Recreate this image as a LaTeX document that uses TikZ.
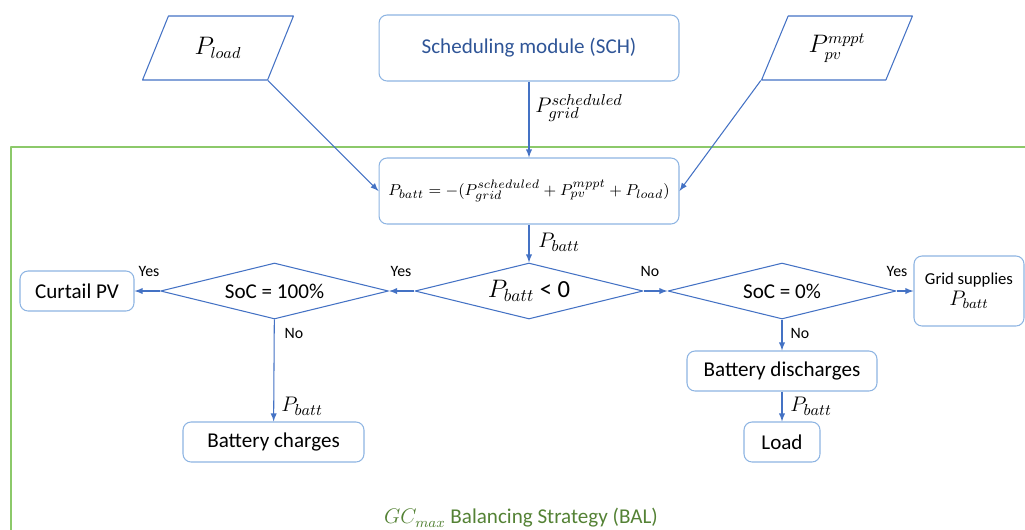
\documentclass[tikz,border=0pt]{standalone}
\usepackage{fontspec}
\setmainfont{Carlito}
\usetikzlibrary{shapes.geometric}
\definecolor{lineblue}{HTML}{4472C4}
\definecolor{boxblue}{HTML}{8DB4E2}
\definecolor{schblue}{HTML}{2F5597}
\definecolor{framegreen}{HTML}{8CC96A}
\definecolor{balgreen}{HTML}{548235}
\tikzset{
	box/.style={draw=boxblue, rounded corners=0.16cm, line width=0.6pt, align=center, inner sep=1pt, font=\fontsize{12}{14}\selectfont},
	decision/.style={diamond, draw=lineblue, line width=0.6pt, shape aspect=4, inner sep=1pt, minimum width=4.56cm, minimum height=1.12cm, font=\fontsize{12}{14}\selectfont},
	datain/.style={trapezium, trapezium left angle=65, trapezium right angle=115, trapezium stretches=true, draw=lineblue, line width=0.6pt, minimum width=3.02cm, minimum height=1.28cm, font=\fontsize{13.5}{16}\selectfont},
	yn/.style={font=\fontsize{9}{11}\selectfont},
	lbl/.style={anchor=west, inner sep=0pt, font=\fontsize{12.5}{15}\selectfont},
	flow/.style={->, draw=lineblue, line width=0.6pt}
}
\begin{document}
\begin{tikzpicture}[x=0.02cm,y=-0.02cm,>=latex,line join=round]
		\clip (0,0) rectangle (1025,529);
		\draw[framegreen, line width=0.7pt] (11,147) rectangle (1040,545);
		% inputs
		\node[datain] (pload) at (218,48) {$P_{load}$};
		\node[box, minimum width=6.0cm, minimum height=1.32cm, text=schblue] (sch) at (529,48) {Scheduling module (SCH)};
		\node[datain] (ppv) at (837,48) {$P_{pv}^{mppt}$};
		% balancing
		\node[box, minimum width=6.0cm, minimum height=1.32cm, font=\fontsize{9.3}{11}\selectfont] (eq) at (529,191) {$P_{batt} = -(P_{grid}^{scheduled} + P_{pv}^{mppt} + P_{load})$};
		\node[decision, font=\fontsize{14}{16}\selectfont] (neg) at (529,291) {$P_{batt}$ < 0};
		\node[decision] (full) at (274.5,291) {SoC = 100\%};
		\node[decision] (empty) at (782,291) {SoC = 0\%};
		\node[box, minimum width=2.28cm, minimum height=0.8cm] (curt) at (77,291) {Curtail PV};
		\node[box, minimum width=2.2cm, minimum height=1.4cm, font=\fontsize{9.5}{12}\selectfont] (grid) at (969,291) {Grid supplies\\{\fontsize{12}{14}\selectfont$P_{batt}$}};
		\node[box, minimum width=3.62cm, minimum height=0.8cm] (chg) at (273.5,442) {Battery charges};
		\node[box, minimum width=3.8cm, minimum height=0.8cm] (dis) at (782,371) {Battery discharges};
		\node[box, minimum width=1.52cm, minimum height=0.8cm] (load) at (782,442) {Load};
		% connectors
		\draw[flow] (sch) -- (eq);
		\draw[flow] (pload.bottom right corner) -- (eq.west);
		\draw[flow] (ppv.bottom left corner) -- (eq.east);
		\draw[flow] (eq) -- (neg);
		\draw[flow] (neg) -- (full);
		\draw[flow] (full) -- (curt);
		\draw[flow] (full) -- (chg);
		\draw[flow] (neg) -- (empty);
		\draw[flow] (empty) -- (grid);
		\draw[flow] (empty) -- (dis);
		\draw[flow] (dis) -- (load);
		% labels
		\node[lbl] (pgrid) at (535,108) {$P_{grid}^{scheduled}$};
		\node[lbl] (pb1) at (538,242) {$P_{batt}$};
		\node[lbl] (pb2) at (281,406) {$P_{batt}$};
		\node[lbl] (pb3) at (790,406) {$P_{batt}$};
		\node[yn] (y1) at (401,271) {Yes};
		\node[yn] (y2) at (149,271) {Yes};
		\node[yn] (n1) at (650,271) {No};
		\node[yn] (y3) at (897,271) {Yes};
		\node[yn] (n2) at (294,333) {No};
		\node[yn] (n3) at (800,333) {No};
		\node[text=balgreen, font=\fontsize{12}{14}\selectfont] (bal) at (521,518) {$GC_{max}$ Balancing Strategy (BAL)};
\end{tikzpicture}
\end{document}
